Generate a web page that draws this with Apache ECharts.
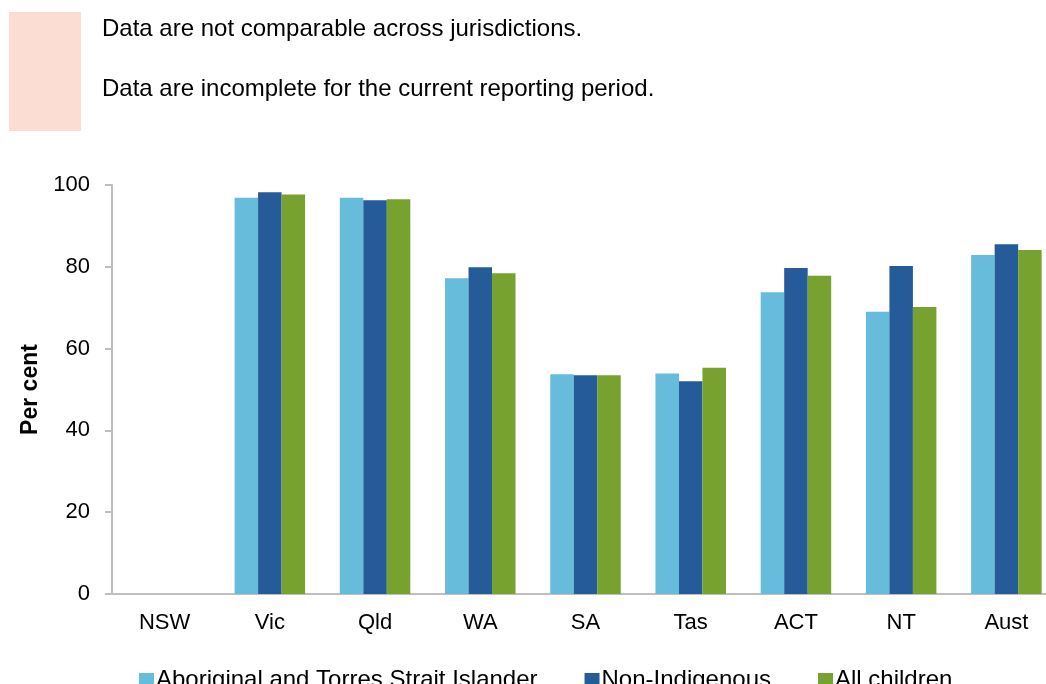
<!DOCTYPE html>
<html>
<head>
<meta charset="utf-8">
<script src="https://cdn.jsdelivr.net/npm/echarts@6/dist/echarts.min.js"></script>
<style>
  html, body { margin: 0; padding: 0; background: #fff; overflow: hidden; }
  /* a bit wider than the window: the source image cuts off the right of the plot */
  #chart { width: 1059px; height: 684px; }
</style>
</head>
<body>
<div id="chart"></div>
<script>
  // jurisdictions
  var categories = ['NSW', 'Vic', 'Qld', 'WA', 'SA', 'Tas', 'ACT', 'NT', 'Aust']
  var seriesNames = ['Aboriginal and Torres Strait Islander', 'Non-Indigenous', 'All children']
  // per cent, NSW has no data
  var indigenous = [null, 96.9, 96.9, 77.2, 53.7, 53.9, 73.8, 69.0, 82.9]
  var nonIndigenous = [null, 98.2, 96.3, 79.9, 53.5, 52.0, 79.7, 80.2, 85.5]
  var allChildren = [null, 97.7, 96.5, 78.4, 53.5, 55.3, 77.8, 70.2, 84.1]
  var yTicks = [0, 20, 40, 60, 80, 100]
  var notes = ['Data are not comparable across jurisdictions.', 'Data are incomplete for the current reporting period.']

  var colors = ['#67bcdb', '#265b9a', '#78a22f']
  var font = '"Liberation Sans", Arial, sans-serif'

  var chart = echarts.init(document.getElementById('chart'))

  function bar(name, data, color) {
    return {
      name: name,
      type: 'bar',
      data: data,
      barWidth: 23.5,
      barGap: '0%',
      itemStyle: { color: color }
    }
  }

  chart.setOption({
    animation: false,
    textStyle: { fontFamily: font },
    graphic: [
      {
        type: 'rect',
        left: 9, top: 12,
        shape: { width: 72, height: 119 },
        style: { fill: '#fbddd3' }
      },
      {
        type: 'text', left: 102, top: 17,
        style: { text: notes[0], font: '24px ' + font, fill: '#000' }
      },
      {
        type: 'text', left: 102, top: 77,
        style: { text: notes[1], font: '24px ' + font, fill: '#000' }
      }
    ],
    legend: {
      data: seriesNames,
      left: 134,
      top: 663,
      icon: 'rect',
      itemWidth: 15,
      itemHeight: 14,
      itemGap: 47,
      textStyle: { fontSize: 24, color: '#000', fontFamily: font, padding: [0, 0, 0, -3] }
    },
    grid: {
      left: 112,
      right: 0,
      top: 185,
      bottom: 90
    },
    xAxis: {
      type: 'category',
      data: categories,
      axisLine: { lineStyle: { color: '#bfbfbf', width: 2 } },
      axisTick: { show: false },
      axisLabel: { color: '#000', fontSize: 22, margin: 18 }
    },
    yAxis: {
      type: 'value',
      min: yTicks[0],
      max: yTicks[yTicks.length - 1],
      interval: 20,
      name: 'Per cent',
      nameLocation: 'middle',
      nameGap: 66,
      nameRotate: 90,
      nameTextStyle: { color: '#000', fontSize: 23, fontWeight: 'bold' },
      axisLine: { show: true, lineStyle: { color: '#bfbfbf', width: 2 } },
      axisTick: { show: true, length: 7, lineStyle: { color: '#bfbfbf', width: 2 } },
      splitLine: { show: false },
      axisLabel: { color: '#000', fontSize: 22, margin: 22 }
    },
    series: [
      bar(seriesNames[0], indigenous, colors[0]),
      bar(seriesNames[1], nonIndigenous, colors[1]),
      bar(seriesNames[2], allChildren, colors[2])
    ]
  })
</script>
</body>
</html>
